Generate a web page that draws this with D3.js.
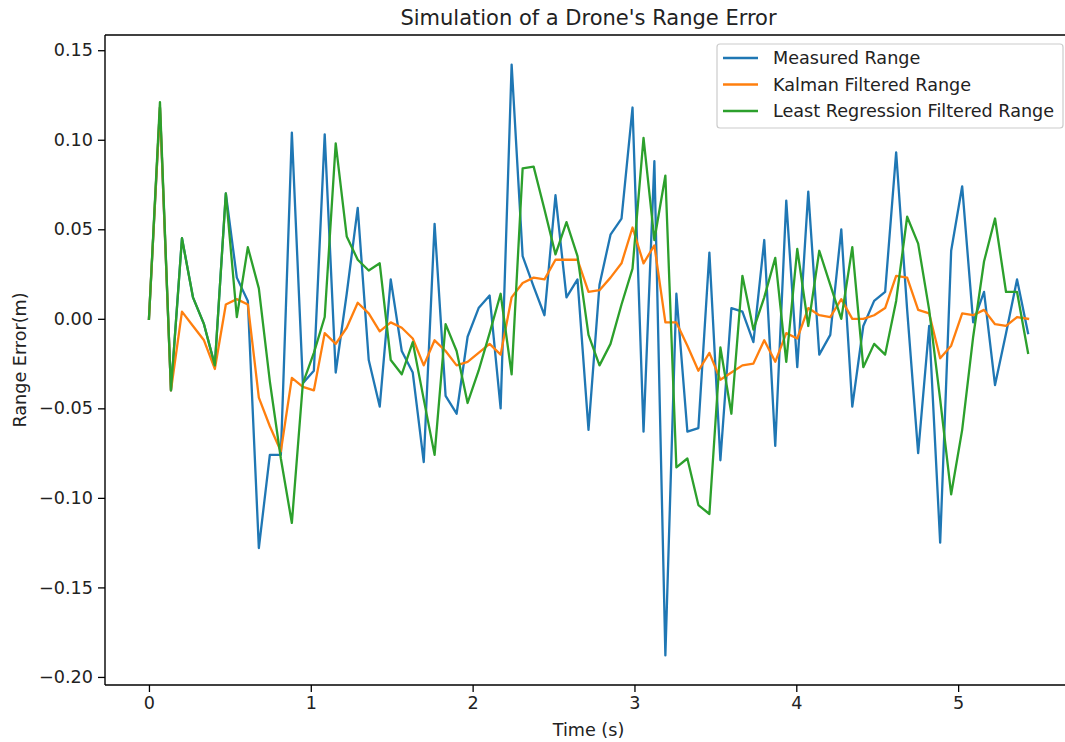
<!DOCTYPE html>
<html>
<head>
<meta charset="utf-8">
<script src="https://cdn.jsdelivr.net/npm/d3@7"></script>
<style>
  html, body { margin: 0; padding: 0; background: #ffffff; }
  svg { display: block; font-family: "DejaVu Sans", sans-serif; }
</style>
</head>
<body>
<svg id="chart" width="1065" height="742"></svg>
<script>
// Sample times (s)
const times = [
  0.000, 0.068, 0.136, 0.204, 0.272, 0.340, 0.407, 0.475, 0.543, 0.611,
  0.679, 0.747, 0.815, 0.883, 0.951, 1.019, 1.086, 1.154, 1.222, 1.290,
  1.358, 1.426, 1.494, 1.562, 1.630, 1.698, 1.765, 1.833, 1.901, 1.969,
  2.037, 2.105, 2.173, 2.241, 2.309, 2.377, 2.444, 2.512, 2.580, 2.648,
  2.716, 2.784, 2.852, 2.920, 2.988, 3.056, 3.123, 3.191, 3.259, 3.327,
  3.395, 3.463, 3.531, 3.599, 3.667, 3.735, 3.802, 3.870, 3.938, 4.006,
  4.074, 4.142, 4.210, 4.278, 4.346, 4.414, 4.481, 4.549, 4.617, 4.685,
  4.753, 4.821, 4.889, 4.957, 5.025, 5.093, 5.160, 5.228, 5.296, 5.364,
  5.432
];

// Raw measured range error (m)
const measured = [
   0.000,  0.118, -0.040,  0.045,  0.012, -0.003, -0.026,  0.070,  0.023,  0.010,
  -0.128, -0.076, -0.076,  0.104, -0.036, -0.029,  0.103, -0.030,  0.014,  0.062,
  -0.023, -0.049,  0.022, -0.018, -0.030, -0.080,  0.053, -0.043, -0.053, -0.010,
   0.006,  0.013, -0.050,  0.142,  0.035,  0.018,  0.002,  0.069,  0.012,  0.022,
  -0.062,  0.019,  0.047,  0.056,  0.118, -0.063,  0.088, -0.188,  0.014, -0.063,
  -0.061,  0.037, -0.079,  0.006,  0.004, -0.013,  0.044, -0.071,  0.066, -0.027,
   0.071, -0.020, -0.009,  0.050, -0.049, -0.004,  0.010,  0.015,  0.093,  0.005,
  -0.075, -0.004, -0.125,  0.038,  0.074, -0.002,  0.015, -0.037, -0.008,  0.022,
  -0.008
];

// Kalman filter output (m)
const kalman = [
   0.000,  0.118, -0.040,  0.004, -0.004, -0.012, -0.028,  0.008,  0.011,  0.008,
  -0.044, -0.060, -0.074, -0.033, -0.038, -0.040, -0.008, -0.014, -0.005,  0.009,
   0.003, -0.007, -0.002, -0.005, -0.011, -0.026, -0.012, -0.018, -0.026, -0.024,
  -0.019, -0.014, -0.020,  0.012,  0.020,  0.023,  0.022,  0.033,  0.033,  0.033,
   0.015,  0.016,  0.023,  0.031,  0.051,  0.031,  0.041, -0.002, -0.002, -0.015,
  -0.029, -0.019, -0.034, -0.030, -0.026, -0.025, -0.012, -0.024, -0.008, -0.011,
   0.006,  0.002,  0.001,  0.011,  0.000,  0.000,  0.002,  0.006,  0.024,  0.023,
   0.005,  0.003, -0.022, -0.015,  0.003,  0.002,  0.005, -0.003, -0.004,  0.001,
   0.000
];

// Least-squares regression filter output (m)
const regression = [
   0.000,  0.121, -0.040,  0.045,  0.012, -0.003, -0.026,  0.070,  0.001,  0.040,
   0.017, -0.035, -0.078, -0.114, -0.036, -0.019,  0.001,  0.098,  0.046,  0.033,
   0.027,  0.031, -0.023, -0.031, -0.013, -0.045, -0.076, -0.003, -0.018, -0.047,
  -0.029, -0.008,  0.014, -0.031,  0.084,  0.085,  0.061,  0.036,  0.054,  0.035,
  -0.009, -0.026, -0.014,  0.008,  0.028,  0.101,  0.044,  0.080, -0.083, -0.078,
  -0.104, -0.109, -0.016, -0.053,  0.024, -0.006,  0.012,  0.034, -0.024,  0.039,
  -0.004,  0.038,  0.019,  0.000,  0.040, -0.027, -0.014, -0.020,  0.010,  0.057,
   0.042,  0.005, -0.045, -0.098, -0.062, -0.010,  0.032,  0.056,  0.015,  0.015,
  -0.019
];

const seriesNames = ["Measured Range", "Kalman Filtered Range", "Least Regression Filtered Range"];
const seriesColors = ["#1f77b4", "#ff7f0e", "#2ca02c"];
const xTicks = [0, 1, 2, 3, 4, 5];
const yTicks = [-0.20, -0.15, -0.10, -0.05, 0.00, 0.05, 0.10, 0.15];

const titleText = "Simulation of a Drone's Range Error";
const xLabel = "Time (s)";
const yLabel = "Range Error(m)";

// ---- layout ----
const plot = { left: 105, right: 1072, top: 35, bottom: 685 };
const fontSize = "17.6px";
const svg = d3.select("#chart");

// Axis limits with a 5% margin around the data
function padded(extent) {
  const span = extent[1] - extent[0];
  return [extent[0] - 0.05 * span, extent[1] + 0.05 * span];
}
const allY = measured.concat(kalman, regression);
const x = d3.scaleLinear().domain(padded(d3.extent(times))).range([plot.left, plot.right]);
const y = d3.scaleLinear().domain(padded(d3.extent(allY))).range([plot.bottom, plot.top]);

// ---- lines ----
const series = [measured, kalman, regression];
const line = d3.line()
  .x((d, i) => x(times[i]))
  .y(d => y(d));

series.forEach((vals, k) => {
  svg.append("path")
    .datum(vals)
    .attr("d", line)
    .attr("fill", "none")
    .attr("stroke", seriesColors[k])
    .attr("stroke-width", 2.3)
    .attr("stroke-linejoin", "round")
    .attr("stroke-linecap", "square");
});

// ---- spines ----
const spineColor = "#000";
[
  [plot.left, plot.top, plot.left, plot.bottom],
  [plot.left, plot.bottom, plot.right, plot.bottom],
  [plot.left, plot.top, plot.right, plot.top],
  [plot.right, plot.top, plot.right, plot.bottom]
].forEach(([x1, y1, x2, y2]) => {
  svg.append("line")
    .attr("x1", x1).attr("y1", y1).attr("x2", x2).attr("y2", y2)
    .attr("stroke", spineColor).attr("stroke-width", 1.4);
});

// ---- axes ----
const xAxis = d3.axisBottom(x).tickValues(xTicks).tickFormat(d3.format("d"))
  .tickSize(7).tickPadding(5);
const gx = svg.append("g").attr("transform", `translate(0,${plot.bottom})`).call(xAxis);
gx.select(".domain").remove();

const yAxis = d3.axisLeft(y).tickValues(yTicks)
  .tickFormat(d => d3.format(".2f")(d).replace("-", "\u2212"))
  .tickSize(7).tickPadding(5);
const gy = svg.append("g").attr("transform", `translate(${plot.left},0)`).call(yAxis);
gy.select(".domain").remove();

[gx, gy].forEach(g => {
  g.selectAll(".tick line").attr("stroke", "#000").attr("stroke-width", 1.3);
  g.selectAll(".tick text")
    .attr("fill", "#222")
    .style("font-size", fontSize)
    .style("font-family", "'DejaVu Sans', sans-serif");
});

// ---- titles ----
svg.append("text")
  .attr("x", (plot.left + plot.right) / 2)
  .attr("y", 25)
  .attr("text-anchor", "middle")
  .attr("fill", "#222")
  .style("font-size", "21px")
  .text(titleText);

svg.append("text")
  .attr("x", (plot.left + plot.right) / 2)
  .attr("y", 736)
  .attr("text-anchor", "middle")
  .attr("fill", "#222")
  .style("font-size", fontSize)
  .text(xLabel);

svg.append("text")
  .attr("transform", `translate(26,${(plot.top + plot.bottom) / 2}) rotate(-90)`)
  .attr("text-anchor", "middle")
  .attr("fill", "#222")
  .style("font-size", fontSize)
  .text(yLabel);

// ---- legend ----
const legend = { x: 717, y: 44, w: 346, h: 84, rowH: 26.5 };
const lg = svg.append("g");
lg.append("rect")
  .attr("x", legend.x).attr("y", legend.y)
  .attr("width", legend.w).attr("height", legend.h)
  .attr("rx", 3).attr("ry", 3)
  .attr("fill", "#ffffff").attr("fill-opacity", 0.85)
  .attr("stroke", "#cccccc").attr("stroke-width", 1.2);

seriesNames.forEach((name, k) => {
  const cy = legend.y + 14 + k * legend.rowH;
  lg.append("line")
    .attr("x1", legend.x + 6).attr("x2", legend.x + 41)
    .attr("y1", cy).attr("y2", cy)
    .attr("stroke", seriesColors[k]).attr("stroke-width", 2.3);
  lg.append("text")
    .attr("x", legend.x + 56)
    .attr("y", cy)
    .attr("dy", "0.35em")
    .attr("fill", "#222")
    .style("font-size", fontSize)
    .text(name);
});
</script>
</body>
</html>
